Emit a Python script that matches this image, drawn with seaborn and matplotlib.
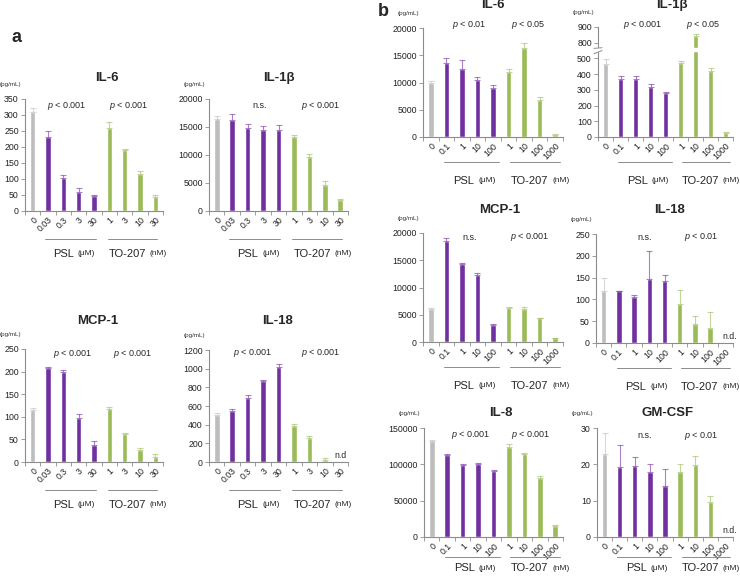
import numpy as np
import pandas as pd
import matplotlib
matplotlib.use("Agg")
import matplotlib.pyplot as plt
import seaborn as sns

sns.set_style("white")
plt.rcParams['font.family'] = ['Liberation Sans', 'DejaVu Sans']
plt.rcParams['mathtext.fontset'] = 'custom'
plt.rcParams['mathtext.it'] = 'Liberation Sans:italic'
plt.rcParams['mathtext.rm'] = 'Liberation Sans'

nan = np.nan

# dose labels (x categories)
a_doses = ["0", "0.03", "0.3", "3", "30", "1", "3", "10", "30"]
b_doses = ["0", "0.1", "1", "10", "100", "1", "10", "100", "1000"]

# panel a (pg/mL), mean and upper error
a_il6 = [310, 232, 104, 60, 48, 260, 190, 117, 45]
a_il6_err = [11, 17, 7, 11, 2, 18, 3, 7, 4]
a_il1b = [16430, 16310, 14880, 14520, 14520, 13210, 9640, 4700, 1960]
a_il1b_err = [600, 950, 600, 650, 900, 300, 540, 660, 120]
a_mcp1 = [115, 209, 200, 98, 38, 117, 62, 27, 12]
a_mcp1_err = [5, 1, 4, 8, 8, 4, 1.5, 5, 6]
a_il18 = [502, 545, 685, 867, 1021, 383, 254, 22, nan]
a_il18_err = [25, 25, 28, 15, 26, 26, 22, 20, nan]

# panel b (pg/mL)
b_il6 = [9970, 13580, 12540, 10400, 9050, 11930, 16390, 6850, 450]
b_il6_err = [370, 980, 1530, 610, 430, 490, 920, 550, 60]
b_il1b = [462, 368, 370, 321, 279, 468, 842, 423, 28]
b_il1b_err = [32, 23, 17, 19, 6, 17, 15, 15, 4]
b_mcp1 = [6050, 18590, 14290, 12330, 3130, 6150, 6100, 4380, 700]
b_mcp1_err = [120, 490, 250, 370, 120, 200, 250, 60, 40]
b_il18 = [119, 119, 105, 147, 142, 89, 44, 35, nan]
b_il18_err = [29, 1, 4, 65, 13, 32, 18, 35, nan]
b_il8 = [131650, 113300, 99100, 100500, 90400, 123400, 114200, 80700, 15100]
b_il8_err = [1400, 900, 2000, 1300, 1300, 4000, 900, 3300, 1800]
b_gmcsf = [22.9, 19.4, 19.6, 18.0, 14.1, 17.8, 19.7, 9.5, nan]
b_gmcsf_err = [5.6, 5.8, 2.4, 2.0, 4.5, 2.4, 2.7, 1.9, nan]

GRAY, PURPLE, GREEN = "#bdbdbd", "#7030a0", "#9bbb59"
AXC = "#8c8c8c"
bar_colors = [GRAY] + [PURPLE] * 4 + [GREEN] * 4

W, H = 740, 578
fig = plt.figure(figsize=(W / 100, H / 100), dpi=100)


def rect(x0, x1, y0, y1):
    return [x0 / W, 1 - y1 / H, (x1 - x0) / W, (y1 - y0) / H]


# broken axis for IL-1beta (b): 500 -> 800 squeezed
def fwd(v):
    v = np.asarray(v, float)
    return np.where(v <= 550, v, np.where(v < 800, 550 + (v - 550) * 0.2, v - 200))


def inv(d):
    d = np.asarray(d, float)
    return np.where(d <= 550, d, np.where(d < 600, 550 + (d - 550) * 5, d + 200))


def panel(r, title, tx, ty, vals, errs, doses, yticks, ptxt, pxy, grp, nd=None, broken=False):
    ax = fig.add_axes(r)
    keys = [f"c{i}" for i in range(len(vals))]
    df = pd.DataFrame({"cond": keys, "val": vals})
    sns.barplot(data=df, x="cond", y="val", hue="cond", order=keys, hue_order=keys,
                palette=dict(zip(keys, bar_colors)), width=0.36, dodge=False,
                legend=False, errorbar=None, saturation=1, ax=ax)
    for i, (v, e) in enumerate(zip(vals, errs)):
        if np.isnan(v):
            continue
        ax.errorbar(i, v, yerr=[[0], [e]], fmt='none', ecolor=bar_colors[i], alpha=0.6,
                    elinewidth=0.8, capsize=2, capthick=0.8)
    if broken:
        ax.set_yscale('function', functions=(fwd, inv))
    ax.set_ylim(yticks[0], yticks[-1])
    ax.set_yticks(yticks)
    ax.set_yticklabels([str(t) for t in yticks])
    ax.set_xlim(-0.5, len(vals) - 0.5)
    ax.set_xticks(range(len(vals)))
    ax.set_xticklabels(doses, rotation=45, ha='right', rotation_mode='anchor')
    ax.set_xticks(np.arange(-0.5, len(vals), 1), minor=True)
    ax.set_xlabel('')
    ax.set_ylabel('')
    sns.despine(ax=ax)
    for s in ('left', 'bottom'):
        ax.spines[s].set_color(AXC)
        ax.spines[s].set_linewidth(0.8)
    ax.tick_params(axis='y', left=True, direction='out', length=3, width=0.6, color=AXC,
                   labelsize=6.3, pad=1.5, labelcolor='#222222')
    ax.tick_params(axis='x', which='major', bottom=True, length=0, labelsize=6.3, pad=3,
                   labelcolor='#222222')
    ax.tick_params(axis='x', which='minor', bottom=True, direction='out', length=3,
                   width=0.6, color=AXC)

    ax.text(tx, ty, title, transform=ax.transAxes, ha='center', va='center',
            fontsize=9.5, fontweight='bold')
    ax.text(-0.025, 1.13, "(pg/mL)", transform=ax.transAxes, ha='right', va='center',
            fontsize=4.5, color='#333333')
    for t, x in zip(ptxt, pxy[:2]):
        ax.text(x, pxy[2], t, transform=ax.get_xaxis_transform(), ha='center',
                va='center', fontsize=6.5)

    tr = ax.get_xaxis_transform()
    ly, ty2, l1, l2, s1, s2 = grp
    for a0, a1 in (l1, l2):
        ax.plot([a0, a1], [ly, ly], transform=tr, clip_on=False, color=AXC, lw=0.7)
    ax.text(s1, ty2, "PSL", transform=tr, ha='right', va='center', fontsize=8)
    ax.text(s1 + 0.25, ty2, "(μM)", transform=tr, ha='left', va='center', fontsize=6)
    ax.text(s2, ty2, "TO-207", transform=tr, ha='right', va='center', fontsize=8)
    ax.text(s2 + 0.25, ty2, "(nM)", transform=tr, ha='left', va='center', fontsize=6)

    if nd is not None:
        ax.text(nd[0], nd[1], nd[2], transform=tr, ha='center', va='bottom', fontsize=6.3)

    if broken:
        ytr = ax.get_yaxis_transform()
        ax.axhspan(545, 620, xmin=-0.03, xmax=1, color='white', zorder=5, clip_on=False)
        for yy in (540, 630):
            ax.plot([-0.03, 0.03], [yy - 10, yy + 10], transform=ytr, clip_on=False,
                    color=AXC, lw=0.7, zorder=6)
    return ax


P3 = "$p$ < 0.001"
P2 = "$p$ < 0.01"
P5 = "$p$ < 0.05"
NS = "n.s."

GA = (-0.25, -0.38, (0.8, 4.1), (4.9, 8.1), 2.7, 7.4)
GB = (-0.23, -0.40, (0.85, 4.4), (5.1, 8.3), 2.8, 7.55)
GB3 = (-0.18, -0.285, (0.85, 4.4), (5.1, 8.3), 2.8, 7.55)

panel(rect(25, 163, 99, 211), "IL-6", 0.59, 1.19, a_il6, a_il6_err, a_doses,
      list(range(0, 351, 50)), [P3, P3], (2.25, 6.25, 0.94), GA)
panel(rect(209, 348, 99, 211), "IL-1β", 0.50, 1.19, a_il1b, a_il1b_err, a_doses,
      list(range(0, 20001, 5000)), [NS, P3], (2.75, 6.75, 0.94), GA)
panel(rect(25, 163, 349, 462), "MCP-1", 0.53, 1.25, a_mcp1, a_mcp1_err, a_doses,
      list(range(0, 251, 50)), [P3, P3], (2.6, 6.55, 0.955), GA)
panel(rect(209, 348, 350, 462), "IL-18", 0.49, 1.26, a_il18, a_il18_err, a_doses,
      list(range(0, 1201, 200)), [P3, P3], (2.35, 6.75, 0.97), GA,
      nd=(8.0, 0.02, "n.d"))

panel(rect(423, 563, 28, 137), "IL-6", 0.50, 1.21, b_il6, b_il6_err, b_doses,
      list(range(0, 20001, 5000)), [P2, P5], (2.5, 6.3, 1.03), GB)
panel(rect(598, 733, 27, 137), "IL-1β", 0.55, 1.20, b_il1b, b_il1b_err, b_doses,
      [0, 100, 200, 300, 400, 500, 800, 900], [P3, P5], (2.5, 6.55, 1.02), GB,
      broken=True)
panel(rect(423, 563, 233, 342), "MCP-1", 0.55, 1.21, b_mcp1, b_mcp1_err, b_doses,
      list(range(0, 20001, 5000)), [NS, P3], (2.5, 6.35, 0.96), GB)
panel(rect(596, 733, 234, 343), "IL-18", 0.54, 1.22, b_il18, b_il18_err, b_doses,
      list(range(0, 251, 50)), [NS, P2], (2.7, 6.4, 0.97), GB,
      nd=(8.3, 0.02, "n.d."))
panel(rect(424, 563, 428, 537), "IL-8", 0.55, 1.14, b_il8, b_il8_err, b_doses,
      list(range(0, 150001, 50000)), [P3, P3], (2.5, 6.4, 0.94), GB3)
panel(rect(597, 733, 428, 537), "GM-CSF", 0.52, 1.14, b_gmcsf, b_gmcsf_err, b_doses,
      list(range(0, 31, 10)), [NS, P2], (2.68, 6.4, 0.93), GB3,
      nd=(8.3, 0.02, "n.d."))

fig.text(12 / W, 1 - 38 / H, "a", fontsize=13, fontweight='bold', va='center')
fig.text(378 / W, 1 - 12 / H, "b", fontsize=13, fontweight='bold', va='center')

fig.savefig("out.png", dpi=100)
